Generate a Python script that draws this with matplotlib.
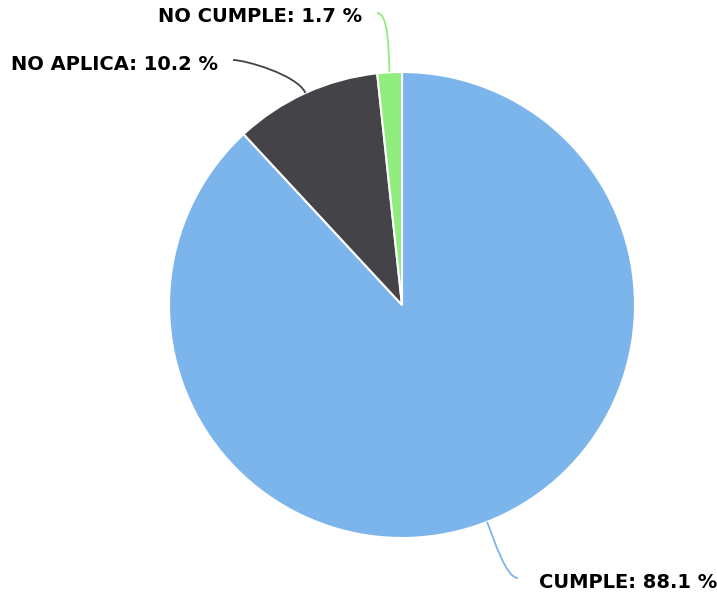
import matplotlib.pyplot as plt
from matplotlib.path import Path
from matplotlib.patches import PathPatch
import numpy as np

labels = ['CUMPLE', 'NO APLICA', 'NO CUMPLE']
values = [88.1, 10.2, 1.7]
colors = ['#7cb5ec', '#434348', '#90ed7d']

W, H = 717, 594
fig = plt.figure(figsize=(W / 100, H / 100), dpi=100)
ax = fig.add_axes([0, 0, 1, 1])

cx, cy, r = 402, H - 305, 233
ax.pie(values, colors=colors, startangle=90, counterclock=False,
       center=(cx, cy), radius=r, frame=True,
       wedgeprops=dict(edgecolor='white', linewidth=1.5))
ax.set_xlim(0, W)
ax.set_ylim(0, H)
ax.axis('off')

# label anchor (screen px, y down) where the connector meets the text
label_pts = [(518, 578), (233, 60), (377, 13)]

cum = 0
for lab, v, col, (lx, ly) in zip(labels, values, colors, label_pts):
    mid = np.deg2rad(90 - (cum + v / 2) * 3.6)
    cum += v
    ex, ey = cx + r * np.cos(mid), cy + r * np.sin(mid)
    rx, ry = cx + (r + 20) * np.cos(mid), cy + (r + 20) * np.sin(mid)
    ly = H - ly
    side = 1 if lx > cx else -1
    verts = [(lx, ly), (lx - side * 12, ly), (rx, ry), (ex, ey)]
    codes = [Path.MOVETO, Path.CURVE4, Path.CURVE4, Path.CURVE4]
    ax.add_patch(PathPatch(Path(verts, codes), fill=False, edgecolor=col, lw=1.3))
    gap = 21 if side > 0 else 15
    ax.text(lx + side * gap, ly - 4, f'{lab}: {v} %',
            ha='left' if side > 0 else 'right', va='center',
            fontsize=14, fontweight='bold', color='black')

fig.savefig('out.png', dpi=100)
